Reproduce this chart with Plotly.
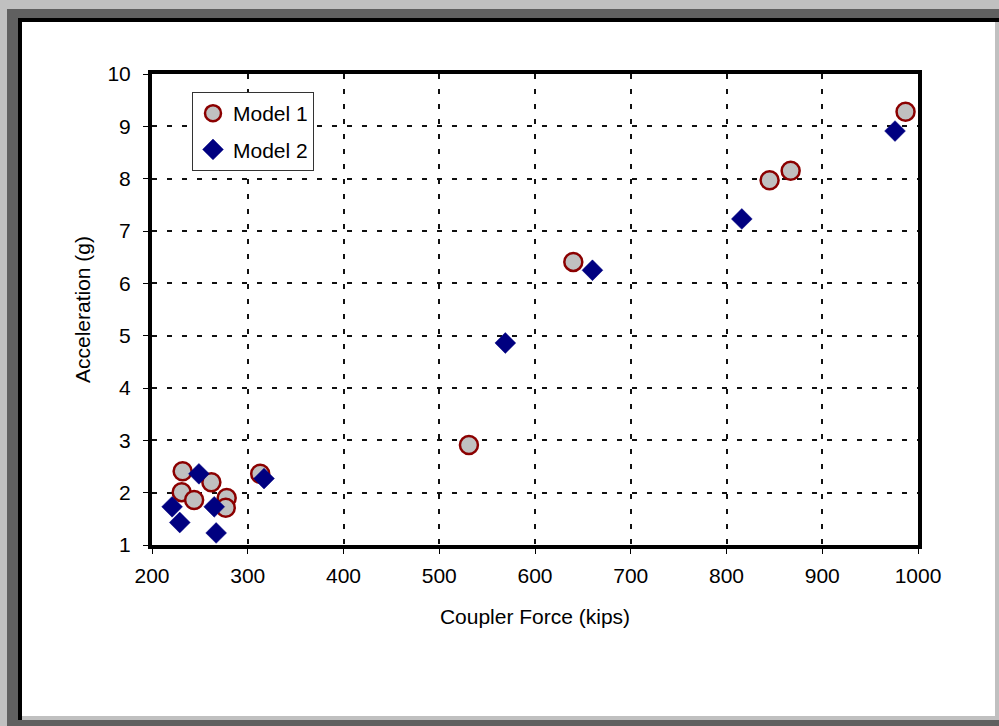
import plotly.graph_objects as go

# ---- data ----
model1_force = [232, 231, 244, 262, 278, 277, 313, 531, 640, 845, 867, 987]
model1_accel = [2.41, 2.01, 1.86, 2.20, 1.90, 1.71, 2.36, 2.91, 6.41, 7.97, 8.15, 9.28]

model2_force = [221, 229, 249, 265, 267, 317, 569, 660, 816, 976]
model2_accel = [1.73, 1.43, 2.36, 1.73, 1.23, 2.27, 4.86, 6.25, 7.23, 8.91]

x_ticks = [200, 300, 400, 500, 600, 700, 800, 900, 1000]
y_ticks = [1, 2, 3, 4, 5, 6, 7, 8, 9, 10]

# ---- layout geometry (pixels) ----
W, H = 999, 726
L, R, T, B = 152, 918, 74, 545
PW, PH = R - L, B - T


def px(xp):
    return (xp - L) / PW


def py(yp):
    return (B - yp) / PH


FONT = "Arial, Liberation Sans, sans-serif"
FS = 21

fig = go.Figure()
fig.add_trace(go.Scatter(
    x=model1_force, y=model1_accel, mode="markers", name="Model 1",
    legendgroup="m1",
    marker=dict(symbol="circle", size=18, color="#c0c0c0",
                line=dict(color="#8b0000", width=2.5)),
))
fig.add_trace(go.Scatter(
    x=model2_force, y=model2_accel, mode="markers", name="Model 2",
    legendgroup="m2",
    marker=dict(symbol="diamond", size=16, color="#000080",
                line=dict(color="#000080", width=0.5)),
))


def rect(x0, y0, x1, y1, color):
    return dict(type="rect", xref="paper", yref="paper", layer="below",
                x0=px(x0), x1=px(x1), y0=py(y0), y1=py(y1),
                fillcolor=color, line=dict(width=0))


shapes = [
    rect(0, 0, W, H, "#c0c0c0"),
    rect(7, 9, W, H, "#606060"),
    rect(18, 18, W, 720, "#000000"),
    rect(22, 22, W, 720, "#c0c0c0"),
    rect(22, 22, 995, 716, "#ffffff"),
]

axis_common = dict(
    showline=True, linewidth=4, linecolor="black", mirror=True,
    showgrid=True, gridcolor="#111111", gridwidth=2, griddash="5px,10px",
    zeroline=False, ticks="outside", ticklen=5, tickwidth=1, tickcolor="black",
    tickfont=dict(family=FONT, size=FS, color="black"),
)

fig.update_layout(
    width=W, height=H,
    margin=dict(l=L, r=W - R, t=T, b=H - B, pad=0),
    paper_bgcolor="white",
    plot_bgcolor="rgba(0,0,0,0)",
    shapes=shapes,
    showlegend=True,
    legend=dict(
        x=px(192), y=py(92), xanchor="left", yanchor="top",
        bgcolor="white", bordercolor="#333333", borderwidth=1,
        font=dict(family=FONT, size=FS, color="black"),
        traceorder="grouped", tracegroupgap=6,
    ),
    xaxis=dict(
        range=[200, 1000], tickvals=x_ticks, ticktext=[str(v) for v in x_ticks],
        title=dict(text="Coupler Force (kips)", standoff=24,
                   font=dict(family=FONT, size=FS, color="black")),
        ticklabelstandoff=4,
        **axis_common,
    ),
    yaxis=dict(
        range=[1, 10], tickvals=y_ticks, ticktext=[str(v) for v in y_ticks],
        title=dict(text="Acceleration (g)", standoff=12,
                   font=dict(family=FONT, size=FS, color="black")),
        ticklabelstandoff=8,
        **axis_common,
    ),
)

fig.write_html("out.html",
               config={"displayModeBar": False},
               post_script="document.body.style.margin='0';"
                           "document.body.style.padding='0';")
